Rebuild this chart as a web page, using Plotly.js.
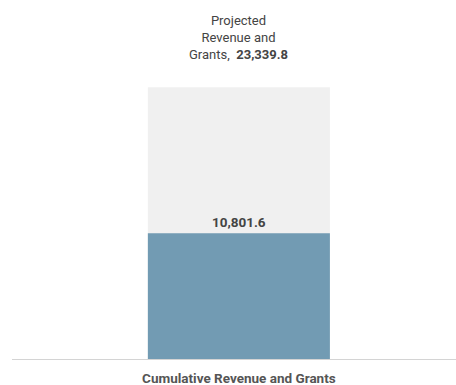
<!DOCTYPE html>
<html><head><meta charset="utf-8">
<script src="https://cdn.plot.ly/plotly-3.0.1.min.js"></script>
<style>html,body{margin:0;padding:0;background:#fff}</style>
</head><body>
<div id="chart" style="width:456px;height:385px"></div>
<script>
const categories = ["Cumulative Revenue and Grants"];
const projectedTotal = [23339.8];
const cumulativeValue = [10801.6];
const projectedLabel = "Projected<br>Revenue and<br>Grants,";

const fmt = v => v.toLocaleString("en-US", {minimumFractionDigits: 1, maximumFractionDigits: 1});

const traces = [
  {type: "bar", x: categories, y: projectedTotal, width: 0.41,
   marker: {color: "#f0f0f0"}, hoverinfo: "skip"},
  {type: "bar", x: categories, y: cumulativeValue, width: 0.41,
   marker: {color: "#729bb3"}, text: cumulativeValue.map(v => "<b>" + fmt(v) + "</b>"),
   textposition: "outside", cliponaxis: false,
   textfont: {family: "Roboto, sans-serif", size: 13.5, color: "#444"}, hoverinfo: "skip"}
];

const layout = {
  width: 456, height: 385, barmode: "overlay", showlegend: false,
  margin: {l: 12, r: 0, t: 20, b: 26},
  paper_bgcolor: "#fff", plot_bgcolor: "#fff",
  font: {family: "Roboto, sans-serif", color: "#444"},
  xaxis: {type: "category", range: [-0.511, 0.489], showline: true, linecolor: "#d4d4d4", linewidth: 1,
          ticks: "", showgrid: false, zeroline: false, ticklabelstandoff: 7,
          tickfont: {family: "Roboto, sans-serif", size: 13.5, color: "#555", weight: "bold"}},
  yaxis: {range: [0, projectedTotal[0] * 338 / 271], visible: false, showgrid: false, zeroline: false},
  annotations: [{
    x: categories[0], y: projectedTotal[0], xref: "x", yref: "y", yanchor: "bottom",
    yshift: 23, showarrow: false, align: "center",
    text: projectedLabel + "  <b>" + fmt(projectedTotal[0]) + "</b>",
    font: {family: "Roboto, sans-serif", size: 13, color: "#444"}
  }]
};

Plotly.newPlot("chart", traces, layout, {displayModeBar: false, staticPlot: true});
</script>
</body></html>
